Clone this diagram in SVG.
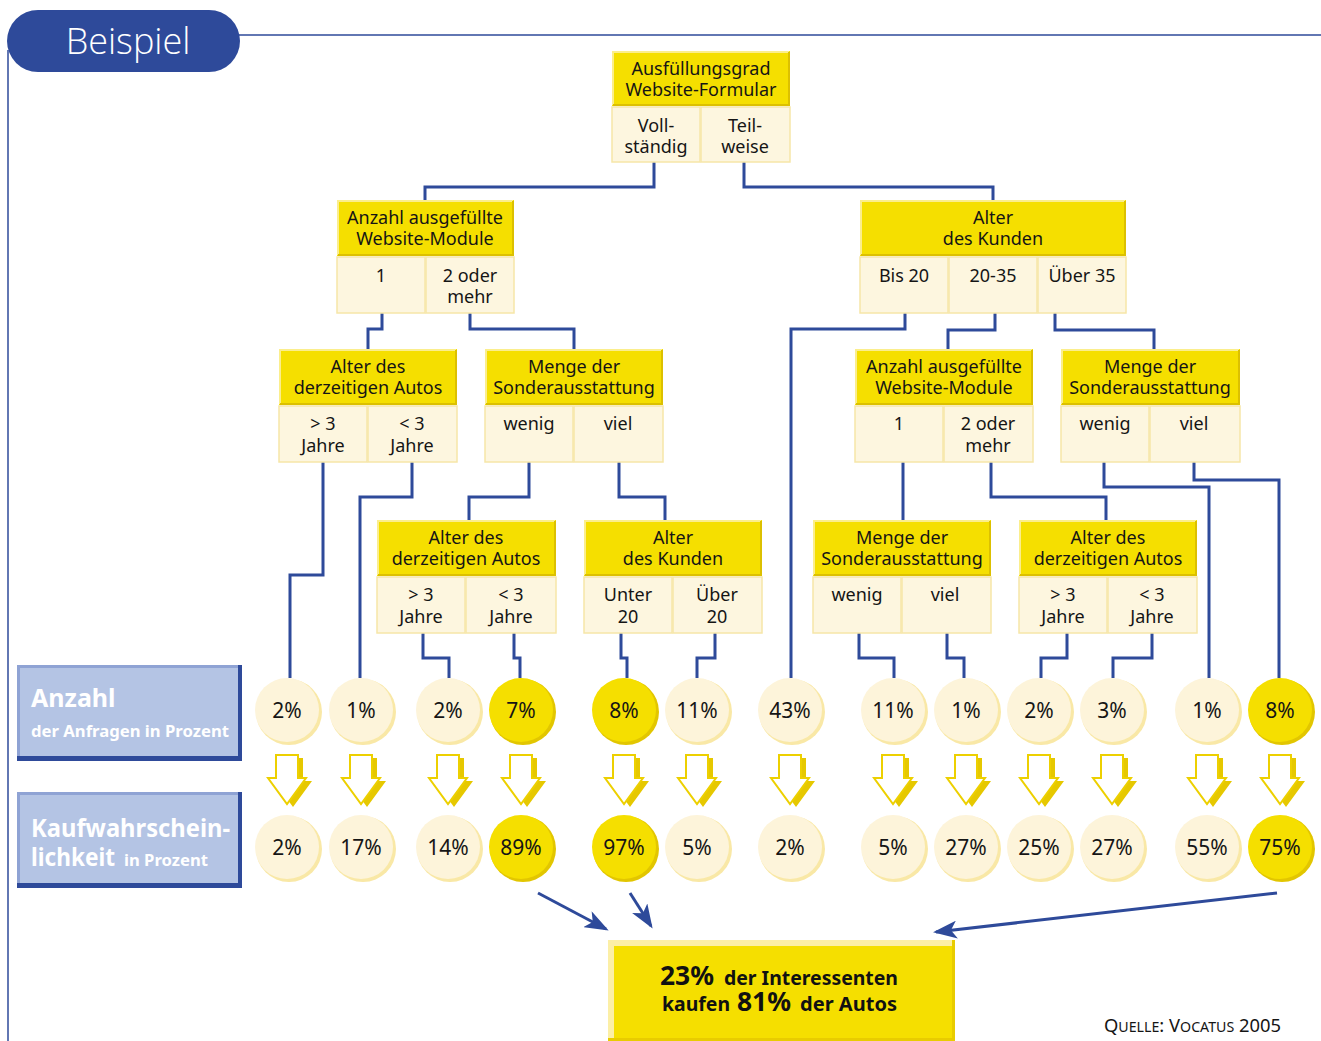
<svg xmlns="http://www.w3.org/2000/svg" xmlns:xlink="http://www.w3.org/1999/xlink" width="1321" height="1041" viewBox="0 0 1321 1041">
<defs>
<style>
.hd{fill:#f5df00}
.hl{fill:none;stroke:#fbee8c;stroke-width:2}
.hs{fill:none;stroke:#dcc000;stroke-width:2}
.cl{fill:#fdf6df;stroke:#f6e6a8;stroke-width:1.5}
.t{font-family:"Noto Sans","Open Sans",sans-serif;font-size:18px;fill:#151515;text-anchor:middle}
.p{font-family:"Noto Sans","Open Sans",sans-serif;font-size:21px;fill:#151515;text-anchor:middle}
.c1{fill:#fdf4da}
.c1s{fill:#f9e8a6}
.c2{fill:#f5df00}
.c2s{fill:#e2c600}
.con{fill:none;stroke:#2e4a9a;stroke-width:3}
.side{fill:#b4c4e4}
.sw{font-family:"Noto Sans","Open Sans",sans-serif;font-weight:bold;fill:#ffffff}
.rb{font-family:"Noto Sans","Open Sans",sans-serif;font-weight:bold;fill:#111111}
.src{font-family:"Noto Sans","Open Sans",sans-serif;fill:#151515}
</style>
<g id="dn">
<polygon points="-6,758 16,758 16,781 25,781 6,807 -13,781 -6,781" fill="#e6c800"/>
<polygon points="-11,755 11,755 11,778 19,778 0,804 -19,778 -11,778" fill="#ffffff" stroke="#edd000" stroke-width="2"/>
</g>
<marker id="ah" markerWidth="8" markerHeight="6" refX="7" refY="3" orient="auto" markerUnits="strokeWidth">
<path d="M0,0 L8,3 L0,6 L2,3 Z" fill="#2e4a9a"/>
</marker>
</defs>
<rect width="1321" height="1041" fill="#ffffff"/>

<!-- frame and title -->
<g id="frame">
<line x1="238" y1="35" x2="1321" y2="35" stroke="#2e4a9a" stroke-width="1.5"/>
<line x1="8" y1="50" x2="8" y2="1041" stroke="#2e4a9a" stroke-width="1.5"/>
<rect x="7" y="10" width="233" height="62" rx="31" fill="#2e4a9a"/>
<text x="128" y="54" font-family="Open Sans,Noto Sans,sans-serif" font-weight="300" font-size="36" fill="#ffffff" text-anchor="middle">Beispiel</text>
</g>

<!-- connectors -->
<g id="connectors">
<path class="con" d="M654,162 V187 H425 V200"/>
<path class="con" d="M744,162 V187 H993 V200"/>
<path class="con" d="M382,313 V329 H368 V349"/>
<path class="con" d="M470,313 V329 H574 V349"/>
<path class="con" d="M905,313 V329 H791 V678"/>
<path class="con" d="M995,313 V330 H948 V349"/>
<path class="con" d="M1055,313 V330 H1154 V349"/>
<path class="con" d="M323,462 V575 H290 V678"/>
<path class="con" d="M412,462 V497 H360 V678"/>
<path class="con" d="M529,462 V497 H469 V520"/>
<path class="con" d="M619,462 V497 H665 V520"/>
<path class="con" d="M903,462 V520"/>
<path class="con" d="M991,462 V497 H1106 V520"/>
<path class="con" d="M1104,462 V487 H1209 V678"/>
<path class="con" d="M1194,462 V480 H1279 V678"/>
<path class="con" d="M423,633 V658 H449 V678"/>
<path class="con" d="M514,633 V658 H520 V678"/>
<path class="con" d="M621,633 V658 H627 V678"/>
<path class="con" d="M715,633 V658 H697 V678"/>
<path class="con" d="M859,633 V658 H894 V678"/>
<path class="con" d="M947,633 V658 H964 V678"/>
<path class="con" d="M1067,633 V658 H1041 V678"/>
<path class="con" d="M1152,633 V658 H1113 V678"/>
<line class="con" x1="538" y1="893" x2="606" y2="929" marker-end="url(#ah)"/>
<line class="con" x1="630" y1="893" x2="651" y2="926" marker-end="url(#ah)"/>
<line class="con" x1="1277" y1="893" x2="936" y2="932" marker-end="url(#ah)"/>
</g>

<!-- Node A -->
<g id="node-ausfuellungsgrad">
<rect class="hd" x="612" y="51" width="178" height="55"/>
<path class="hl" d="M613,105 V52 H789"/><path class="hs" d="M613,105 H789 V52"/>
<rect class="cl" x="612" y="107" width="88" height="55"/><rect class="cl" x="701" y="107" width="89" height="55"/>
<text class="t" x="701" y="75">Ausfüllungsgrad</text><text class="t" x="701" y="96">Website-Formular</text>
<text class="t" x="656" y="132">Voll-</text><text class="t" x="656" y="153">ständig</text>
<text class="t" x="745" y="132">Teil-</text><text class="t" x="745" y="153">weise</text>
</g>

<!-- Node B -->
<g id="node-module-1">
<rect class="hd" x="337" y="200" width="177" height="56"/>
<path class="hl" d="M338,255 V201 H513"/><path class="hs" d="M338,255 H513 V201"/>
<rect class="cl" x="337" y="257" width="88" height="56"/><rect class="cl" x="426" y="257" width="88" height="56"/>
<text class="t" x="425" y="224">Anzahl ausgefüllte</text><text class="t" x="425" y="245">Website-Module</text>
<text class="t" x="381" y="282">1</text>
<text class="t" x="470" y="282">2 oder</text><text class="t" x="470" y="303">mehr</text>
</g>

<!-- Node C -->
<g id="node-alter-kunden-1">
<rect class="hd" x="860" y="200" width="266" height="56"/>
<path class="hl" d="M861,255 V201 H1125"/><path class="hs" d="M861,255 H1125 V201"/>
<rect class="cl" x="860" y="257" width="88" height="56"/><rect class="cl" x="949" y="257" width="88" height="56"/><rect class="cl" x="1038" y="257" width="88" height="56"/>
<text class="t" x="993" y="224">Alter</text><text class="t" x="993" y="245">des Kunden</text>
<text class="t" x="904" y="282">Bis 20</text>
<text class="t" x="993" y="282">20-35</text>
<text class="t" x="1082" y="282">Über 35</text>
</g>

<!-- Node D -->
<g id="node-alter-autos-1">
<rect class="hd" x="279" y="349" width="178" height="56"/>
<path class="hl" d="M280,404 V350 H456"/><path class="hs" d="M280,404 H456 V350"/>
<rect class="cl" x="279" y="406" width="88" height="56"/><rect class="cl" x="368" y="406" width="89" height="56"/>
<text class="t" x="368" y="373">Alter des</text><text class="t" x="368" y="394">derzeitigen Autos</text>
<text class="t" x="323" y="430">&gt; 3</text><text class="t" x="323" y="452">Jahre</text>
<text class="t" x="412" y="430">&lt; 3</text><text class="t" x="412" y="452">Jahre</text>
</g>

<!-- Node E -->
<g id="node-sonder-1">
<rect class="hd" x="485" y="349" width="178" height="56"/>
<path class="hl" d="M486,404 V350 H662"/><path class="hs" d="M486,404 H662 V350"/>
<rect class="cl" x="485" y="406" width="88" height="56"/><rect class="cl" x="574" y="406" width="89" height="56"/>
<text class="t" x="574" y="373">Menge der</text><text class="t" x="574" y="394">Sonderausstattung</text>
<text class="t" x="529" y="430">wenig</text>
<text class="t" x="618" y="430">viel</text>
</g>

<!-- Node F -->
<g id="node-module-2">
<rect class="hd" x="855" y="349" width="178" height="56"/>
<path class="hl" d="M856,404 V350 H1032"/><path class="hs" d="M856,404 H1032 V350"/>
<rect class="cl" x="855" y="406" width="88" height="56"/><rect class="cl" x="944" y="406" width="89" height="56"/>
<text class="t" x="944" y="373">Anzahl ausgefüllte</text><text class="t" x="944" y="394">Website-Module</text>
<text class="t" x="899" y="430">1</text>
<text class="t" x="988" y="430">2 oder</text><text class="t" x="988" y="452">mehr</text>
</g>

<!-- Node G -->
<g id="node-sonder-2">
<rect class="hd" x="1061" y="349" width="179" height="56"/>
<path class="hl" d="M1062,404 V350 H1239"/><path class="hs" d="M1062,404 H1239 V350"/>
<rect class="cl" x="1061" y="406" width="88" height="56"/><rect class="cl" x="1150" y="406" width="90" height="56"/>
<text class="t" x="1150" y="373">Menge der</text><text class="t" x="1150" y="394">Sonderausstattung</text>
<text class="t" x="1105" y="430">wenig</text>
<text class="t" x="1194" y="430">viel</text>
</g>

<!-- Node H -->
<g id="node-alter-autos-2">
<rect class="hd" x="377" y="520" width="179" height="56"/>
<path class="hl" d="M378,575 V521 H555"/><path class="hs" d="M378,575 H555 V521"/>
<rect class="cl" x="377" y="577" width="88" height="56"/><rect class="cl" x="466" y="577" width="90" height="56"/>
<text class="t" x="466" y="544">Alter des</text><text class="t" x="466" y="565">derzeitigen Autos</text>
<text class="t" x="421" y="601">&gt; 3</text><text class="t" x="421" y="623">Jahre</text>
<text class="t" x="511" y="601">&lt; 3</text><text class="t" x="511" y="623">Jahre</text>
</g>

<!-- Node I -->
<g id="node-alter-kunden-2">
<rect class="hd" x="584" y="520" width="178" height="56"/>
<path class="hl" d="M585,575 V521 H761"/><path class="hs" d="M585,575 H761 V521"/>
<rect class="cl" x="584" y="577" width="88" height="56"/><rect class="cl" x="673" y="577" width="89" height="56"/>
<text class="t" x="673" y="544">Alter</text><text class="t" x="673" y="565">des Kunden</text>
<text class="t" x="628" y="601">Unter</text><text class="t" x="628" y="623">20</text>
<text class="t" x="717" y="601">Über</text><text class="t" x="717" y="623">20</text>
</g>

<!-- Node J -->
<g id="node-sonder-3">
<rect class="hd" x="813" y="520" width="178" height="56"/>
<path class="hl" d="M814,575 V521 H990"/><path class="hs" d="M814,575 H990 V521"/>
<rect class="cl" x="813" y="577" width="88" height="56"/><rect class="cl" x="902" y="577" width="89" height="56"/>
<text class="t" x="902" y="544">Menge der</text><text class="t" x="902" y="565">Sonderausstattung</text>
<text class="t" x="857" y="601">wenig</text>
<text class="t" x="945" y="601">viel</text>
</g>

<!-- Node K -->
<g id="node-alter-autos-3">
<rect class="hd" x="1019" y="520" width="178" height="56"/>
<path class="hl" d="M1020,575 V521 H1196"/><path class="hs" d="M1020,575 H1196 V521"/>
<rect class="cl" x="1019" y="577" width="88" height="56"/><rect class="cl" x="1108" y="577" width="89" height="56"/>
<text class="t" x="1108" y="544">Alter des</text><text class="t" x="1108" y="565">derzeitigen Autos</text>
<text class="t" x="1063" y="601">&gt; 3</text><text class="t" x="1063" y="623">Jahre</text>
<text class="t" x="1152" y="601">&lt; 3</text><text class="t" x="1152" y="623">Jahre</text>
</g>

<!-- side labels -->
<g id="label-anzahl">
<rect x="17" y="665" width="225" height="96" fill="#2e4a9a"/>
<rect x="17" y="665" width="221" height="91" fill="#8fa3d4"/>
<rect class="side" x="20" y="668" width="218" height="88"/>
<text class="sw" x="31" y="707" font-size="25">Anzahl</text>
<text class="sw" x="31" y="737" font-size="16.5" textLength="198" lengthAdjust="spacingAndGlyphs">der Anfragen in Prozent</text>
</g>
<g id="label-kauf">
<rect x="17" y="792" width="225" height="96" fill="#2e4a9a"/>
<rect x="17" y="792" width="221" height="91" fill="#8fa3d4"/>
<rect class="side" x="20" y="795" width="218" height="88"/>
<text class="sw" x="31" y="837" font-size="25" textLength="199" lengthAdjust="spacingAndGlyphs">Kaufwahrschein-</text>
<text class="sw" x="31" y="866" font-size="25" textLength="84" lengthAdjust="spacingAndGlyphs">lichkeit</text>
<text class="sw" x="124" y="866" font-size="16.5" textLength="84" lengthAdjust="spacingAndGlyphs">in Prozent</text>
</g>

<!-- circles row 1 -->
<g id="anzahl-row">
<g><circle class="c1s" cx="289" cy="712" r="33"/><circle class="c1" cx="287" cy="710" r="32"/><text class="p" x="287" y="718">2%</text></g>
<g><circle class="c1s" cx="363" cy="712" r="33"/><circle class="c1" cx="361" cy="710" r="32"/><text class="p" x="361" y="718">1%</text></g>
<g><circle class="c1s" cx="450" cy="712" r="33"/><circle class="c1" cx="448" cy="710" r="32"/><text class="p" x="448" y="718">2%</text></g>
<g><circle class="c2s" cx="523" cy="712" r="33"/><circle class="c2" cx="521" cy="710" r="32"/><text class="p" x="521" y="718">7%</text></g>
<g><circle class="c2s" cx="626" cy="712" r="33"/><circle class="c2" cx="624" cy="710" r="32"/><text class="p" x="624" y="718">8%</text></g>
<g><circle class="c1s" cx="699" cy="712" r="33"/><circle class="c1" cx="697" cy="710" r="32"/><text class="p" x="697" y="718">11%</text></g>
<g><circle class="c1s" cx="792" cy="712" r="33"/><circle class="c1" cx="790" cy="710" r="32"/><text class="p" x="790" y="718">43%</text></g>
<g><circle class="c1s" cx="895" cy="712" r="33"/><circle class="c1" cx="893" cy="710" r="32"/><text class="p" x="893" y="718">11%</text></g>
<g><circle class="c1s" cx="968" cy="712" r="33"/><circle class="c1" cx="966" cy="710" r="32"/><text class="p" x="966" y="718">1%</text></g>
<g><circle class="c1s" cx="1041" cy="712" r="33"/><circle class="c1" cx="1039" cy="710" r="32"/><text class="p" x="1039" y="718">2%</text></g>
<g><circle class="c1s" cx="1114" cy="712" r="33"/><circle class="c1" cx="1112" cy="710" r="32"/><text class="p" x="1112" y="718">3%</text></g>
<g><circle class="c1s" cx="1209" cy="712" r="33"/><circle class="c1" cx="1207" cy="710" r="32"/><text class="p" x="1207" y="718">1%</text></g>
<g><circle class="c2s" cx="1282" cy="712" r="33"/><circle class="c2" cx="1280" cy="710" r="32"/><text class="p" x="1280" y="718">8%</text></g>
</g>

<!-- down arrows -->
<g id="down-arrows">
<use xlink:href="#dn" x="287"/><use xlink:href="#dn" x="361"/><use xlink:href="#dn" x="448"/><use xlink:href="#dn" x="521"/>
<use xlink:href="#dn" x="624"/><use xlink:href="#dn" x="697"/><use xlink:href="#dn" x="790"/><use xlink:href="#dn" x="893"/>
<use xlink:href="#dn" x="966"/><use xlink:href="#dn" x="1039"/><use xlink:href="#dn" x="1112"/><use xlink:href="#dn" x="1207"/>
<use xlink:href="#dn" x="1280"/>
</g>

<!-- circles row 2 -->
<g id="kauf-row">
<g><circle class="c1s" cx="289" cy="849" r="33"/><circle class="c1" cx="287" cy="847" r="32"/><text class="p" x="287" y="855">2%</text></g>
<g><circle class="c1s" cx="363" cy="849" r="33"/><circle class="c1" cx="361" cy="847" r="32"/><text class="p" x="361" y="855">17%</text></g>
<g><circle class="c1s" cx="450" cy="849" r="33"/><circle class="c1" cx="448" cy="847" r="32"/><text class="p" x="448" y="855">14%</text></g>
<g><circle class="c2s" cx="523" cy="849" r="33"/><circle class="c2" cx="521" cy="847" r="32"/><text class="p" x="521" y="855">89%</text></g>
<g><circle class="c2s" cx="626" cy="849" r="33"/><circle class="c2" cx="624" cy="847" r="32"/><text class="p" x="624" y="855">97%</text></g>
<g><circle class="c1s" cx="699" cy="849" r="33"/><circle class="c1" cx="697" cy="847" r="32"/><text class="p" x="697" y="855">5%</text></g>
<g><circle class="c1s" cx="792" cy="849" r="33"/><circle class="c1" cx="790" cy="847" r="32"/><text class="p" x="790" y="855">2%</text></g>
<g><circle class="c1s" cx="895" cy="849" r="33"/><circle class="c1" cx="893" cy="847" r="32"/><text class="p" x="893" y="855">5%</text></g>
<g><circle class="c1s" cx="968" cy="849" r="33"/><circle class="c1" cx="966" cy="847" r="32"/><text class="p" x="966" y="855">27%</text></g>
<g><circle class="c1s" cx="1041" cy="849" r="33"/><circle class="c1" cx="1039" cy="847" r="32"/><text class="p" x="1039" y="855">25%</text></g>
<g><circle class="c1s" cx="1114" cy="849" r="33"/><circle class="c1" cx="1112" cy="847" r="32"/><text class="p" x="1112" y="855">27%</text></g>
<g><circle class="c1s" cx="1209" cy="849" r="33"/><circle class="c1" cx="1207" cy="847" r="32"/><text class="p" x="1207" y="855">55%</text></g>
<g><circle class="c2s" cx="1282" cy="849" r="33"/><circle class="c2" cx="1280" cy="847" r="32"/><text class="p" x="1280" y="855">75%</text></g>
</g>

<!-- result box -->
<g id="result">
<rect x="608" y="940" width="347" height="101" fill="#e8cc00"/>
<rect x="608" y="940" width="344" height="98" fill="#fcefa6"/>
<rect x="614" y="946" width="338" height="92" fill="#f5df00"/>
<text class="rb" x="660" y="985" font-size="26" textLength="54" lengthAdjust="spacingAndGlyphs">23%</text>
<text class="rb" x="724" y="985" font-size="19.5" textLength="174" lengthAdjust="spacingAndGlyphs">der Interessenten</text>
<text class="rb" x="662" y="1011" font-size="19.5" textLength="68" lengthAdjust="spacingAndGlyphs">kaufen</text>
<text class="rb" x="737" y="1011" font-size="26" textLength="54" lengthAdjust="spacingAndGlyphs">81%</text>
<text class="rb" x="800" y="1011" font-size="19.5" textLength="97" lengthAdjust="spacingAndGlyphs">der Autos</text>
</g>

<text class="src" x="1104" y="1032" font-size="17.5" textLength="177" lengthAdjust="spacingAndGlyphs">Q<tspan font-size="13.5">UELLE</tspan>: V<tspan font-size="13.5">OCATUS</tspan> 2005</text>
</svg>
